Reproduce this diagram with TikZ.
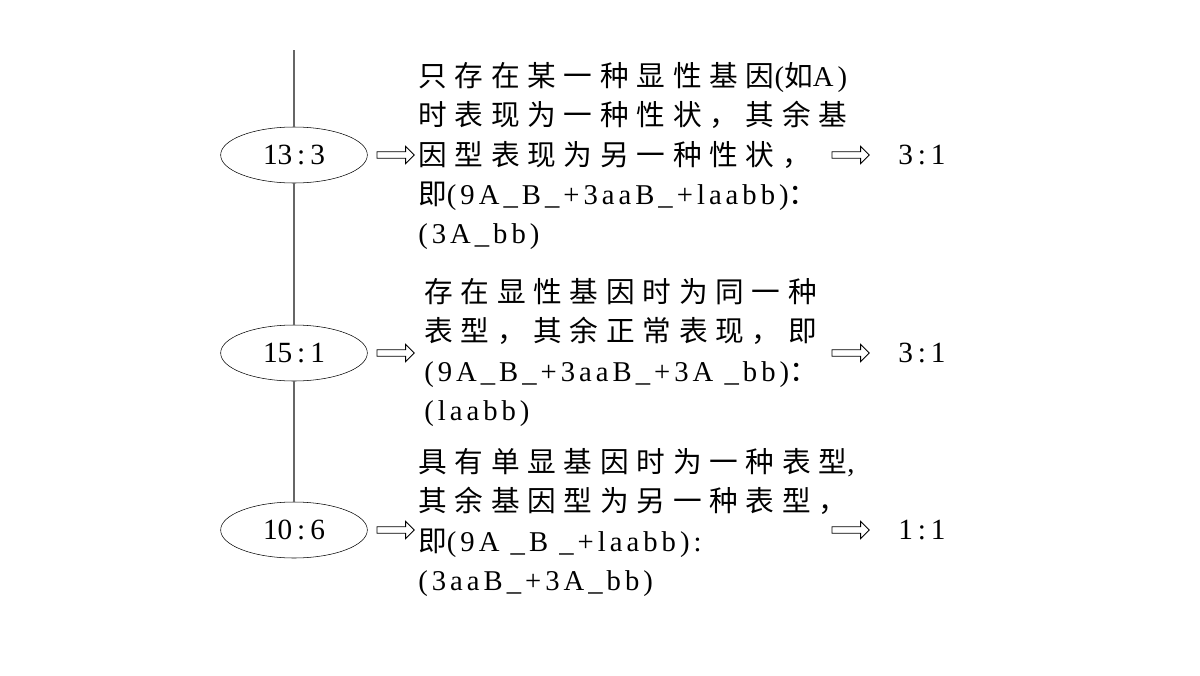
\documentclass[tikz,border=0pt]{standalone}
\usepackage{fontspec}
\setmainfont{Liberation Serif}
\newfontfamily\lat[LetterSpace=14]{Liberation Serif}
\newfontfamily\cjk[LetterSpace=27]{Noto Sans CJK SC}
\usetikzlibrary{shapes.arrows,shapes.geometric}
\begin{document}
\begin{tikzpicture}[x=0.75pt,y=-0.75pt,
  ratio/.style={draw,ellipse,minimum width=110pt,minimum height=42pt,font=\fontsize{22}{24}\selectfont},
  harrow/.style={draw,single arrow,minimum height=28pt,minimum width=13pt,single arrow head extend=3pt,inner sep=1.5pt,line width=0.6pt},
  txt/.style={anchor=north west,align=left,inner sep=0pt,font=\fontsize{21.5}{29.5}\selectfont\lat},
  res/.style={font=\fontsize{22}{24}\selectfont}]
\useasboundingbox (0,0) rectangle (1200,675);
\node[ratio] (r1) at (294,155) {13\,:\,3};
\node[ratio] (r2) at (294,353) {15\,:\,1};
\node[ratio] (r3) at (294,530) {10\,:\,6};
\coordinate (top) at (294,50);
\draw[gray!80!black,line width=0.8pt] (top) -- (r1) (r1) -- (r2) (r2) -- (r3);
\node[harrow] (a1) at (394,155) {};
\node[harrow] (a2) at (394,353) {};
\node[harrow] (a3) at (394,530) {};
\node[harrow] (b1) at (849,155) {};
\node[harrow] (b2) at (849,353) {};
\node[harrow] (b3) at (849,530) {};
\node[res] (s1) at (922,155) {3\,:\,1};
\node[res] (s2) at (922,353) {3\,:\,1};
\node[res] (s3) at (922,530) {1\,:\,1};
\node[txt] (t1) at (418,62) {{\cjk 只存在某一种显性基因}({\cjk 如}A)\\
{\cjk 时表现为一种性状，其余基}\\
{\cjk 因型表现为另一种性状，}\\
{\cjk 即}(9A\_B\_+3aaB\_+laabb){\cjk ：}\\
(3A\_bb)};
\node[txt] (t2) at (424,278) {{\cjk 存在显性基因时为同一种}\\
{\cjk 表型，其余正常表现，即}\\
(9A\_B\_+3aaB\_+3A \_bb){\cjk ：}\\
(laabb)};
\node[txt] (t3) at (418,448) {{\cjk 具有单显基因时为一种表型}, \\
{\cjk 其余基因型为另一种表型，}\\
{\cjk 即}(9A \_B \_+laabb):\\
(3aaB\_+3A\_bb)};
\end{tikzpicture}
\end{document}
